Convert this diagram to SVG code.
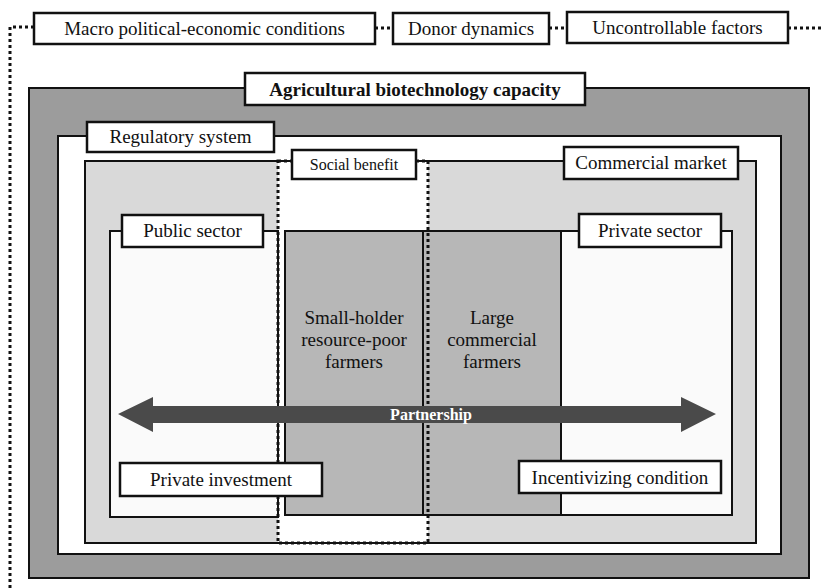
<svg xmlns="http://www.w3.org/2000/svg" width="822" height="588" viewBox="0 0 822 588" font-family="'Liberation Serif', 'Times New Roman', Times, serif">
<style>
.t{font-family:'Liberation Serif','Times New Roman',Times,serif;font-size:19px;fill:#111;text-anchor:middle}
.b{font-weight:bold}
.lab{fill:#fff;stroke:#111;stroke-width:2.5}
.box{stroke:#111;stroke-width:2}
.dot{fill:none;stroke:#111;stroke-width:3;stroke-dasharray:3 3}
</style>
<rect width="822" height="588" fill="#fff"/>
<g id="connectors">
<path class="dot" d="M34 27 H10 V588"/>
<path class="dot" d="M375 28 H393"/>
<path class="dot" d="M549 28 H567"/>
<path class="dot" d="M788 28 H822"/>
</g>
<g id="macro"><rect class="lab" x="34" y="13" width="341" height="31"/><text class="t" x="204.5" y="35">Macro political-economic conditions</text></g>
<g id="donor"><rect class="lab" x="393" y="13" width="156" height="31"/><text class="t" x="471" y="35">Donor dynamics</text></g>
<g id="uncontrollable"><rect class="lab" x="567" y="12" width="221" height="31"/><text class="t" x="677.5" y="34">Uncontrollable factors</text></g>

<g id="capacity">
<rect class="box" x="29" y="88" width="780" height="490" fill="#9c9c9c"/>
</g>
<g id="regulatory">
<rect class="box" x="58" y="136" width="723" height="418" fill="#fff"/>
</g>
<g id="public-market">
<rect class="box" x="85" y="161" width="671" height="382" fill="#d9d9d9"/>
</g>
<g id="social-benefit">
<rect x="278" y="162" width="150" height="380" fill="#fff"/>
</g>
<g id="public-sector">
<rect class="box" x="110" y="231" width="168" height="286" fill="#fafafa"/>
</g>
<g id="private-sector">
<rect class="box" x="561" y="231" width="171" height="284" fill="#fafafa"/>
</g>
<g id="smallholder">
<rect class="box" x="285" y="231" width="138" height="284" fill="#b7b7b7"/>
<text class="t" x="354" y="324">Small-holder</text>
<text class="t" x="354" y="346">resource-poor</text>
<text class="t" x="354" y="368">farmers</text>
</g>
<g id="large-farmers">
<rect class="box" x="423" y="231" width="138" height="284" fill="#b7b7b7"/>
<text class="t" x="492" y="324">Large</text>
<text class="t" x="492" y="346">commercial</text>
<text class="t" x="492" y="368">farmers</text>
</g>
<g id="social-benefit-border">
<rect class="dot" x="278" y="161" width="150" height="382"/>
</g>
<g id="partnership">
<polygon points="118,414 153,397 153,406 681,406 681,397 716,414 681,432 681,423 153,423 153,432" fill="#4a4a4a"/>
<text class="t b" x="431" y="419.5" style="font-size:16px;fill:#fff">Partnership</text>
</g>
<g id="capacity-label"><rect class="lab" x="245" y="73" width="340" height="32"/><text class="t b" x="415" y="96">Agricultural biotechnology capacity</text></g>
<g id="regulatory-label"><rect class="lab" x="87" y="122" width="187" height="30"/><text class="t" x="180.5" y="143">Regulatory system</text></g>
<g id="social-label"><rect class="lab" x="292" y="150" width="124" height="29"/><text class="t" x="354" y="170" style="font-size:16px">Social benefit</text></g>
<g id="market-label"><rect class="lab" x="564" y="147" width="174" height="32"/><text class="t" x="651" y="169">Commercial market</text></g>
<g id="public-label"><rect class="lab" x="122" y="215" width="141" height="32"/><text class="t" x="192.5" y="237">Public sector</text></g>
<g id="private-label"><rect class="lab" x="579" y="214" width="142" height="33"/><text class="t" x="650" y="237">Private sector</text></g>
<g id="investment"><rect class="lab" x="120" y="463" width="202" height="33"/><text class="t" x="221" y="486">Private investment</text></g>
<g id="incentive"><rect class="lab" x="519" y="461" width="202" height="32"/><text class="t" x="620" y="484">Incentivizing condition</text></g>
</svg>
